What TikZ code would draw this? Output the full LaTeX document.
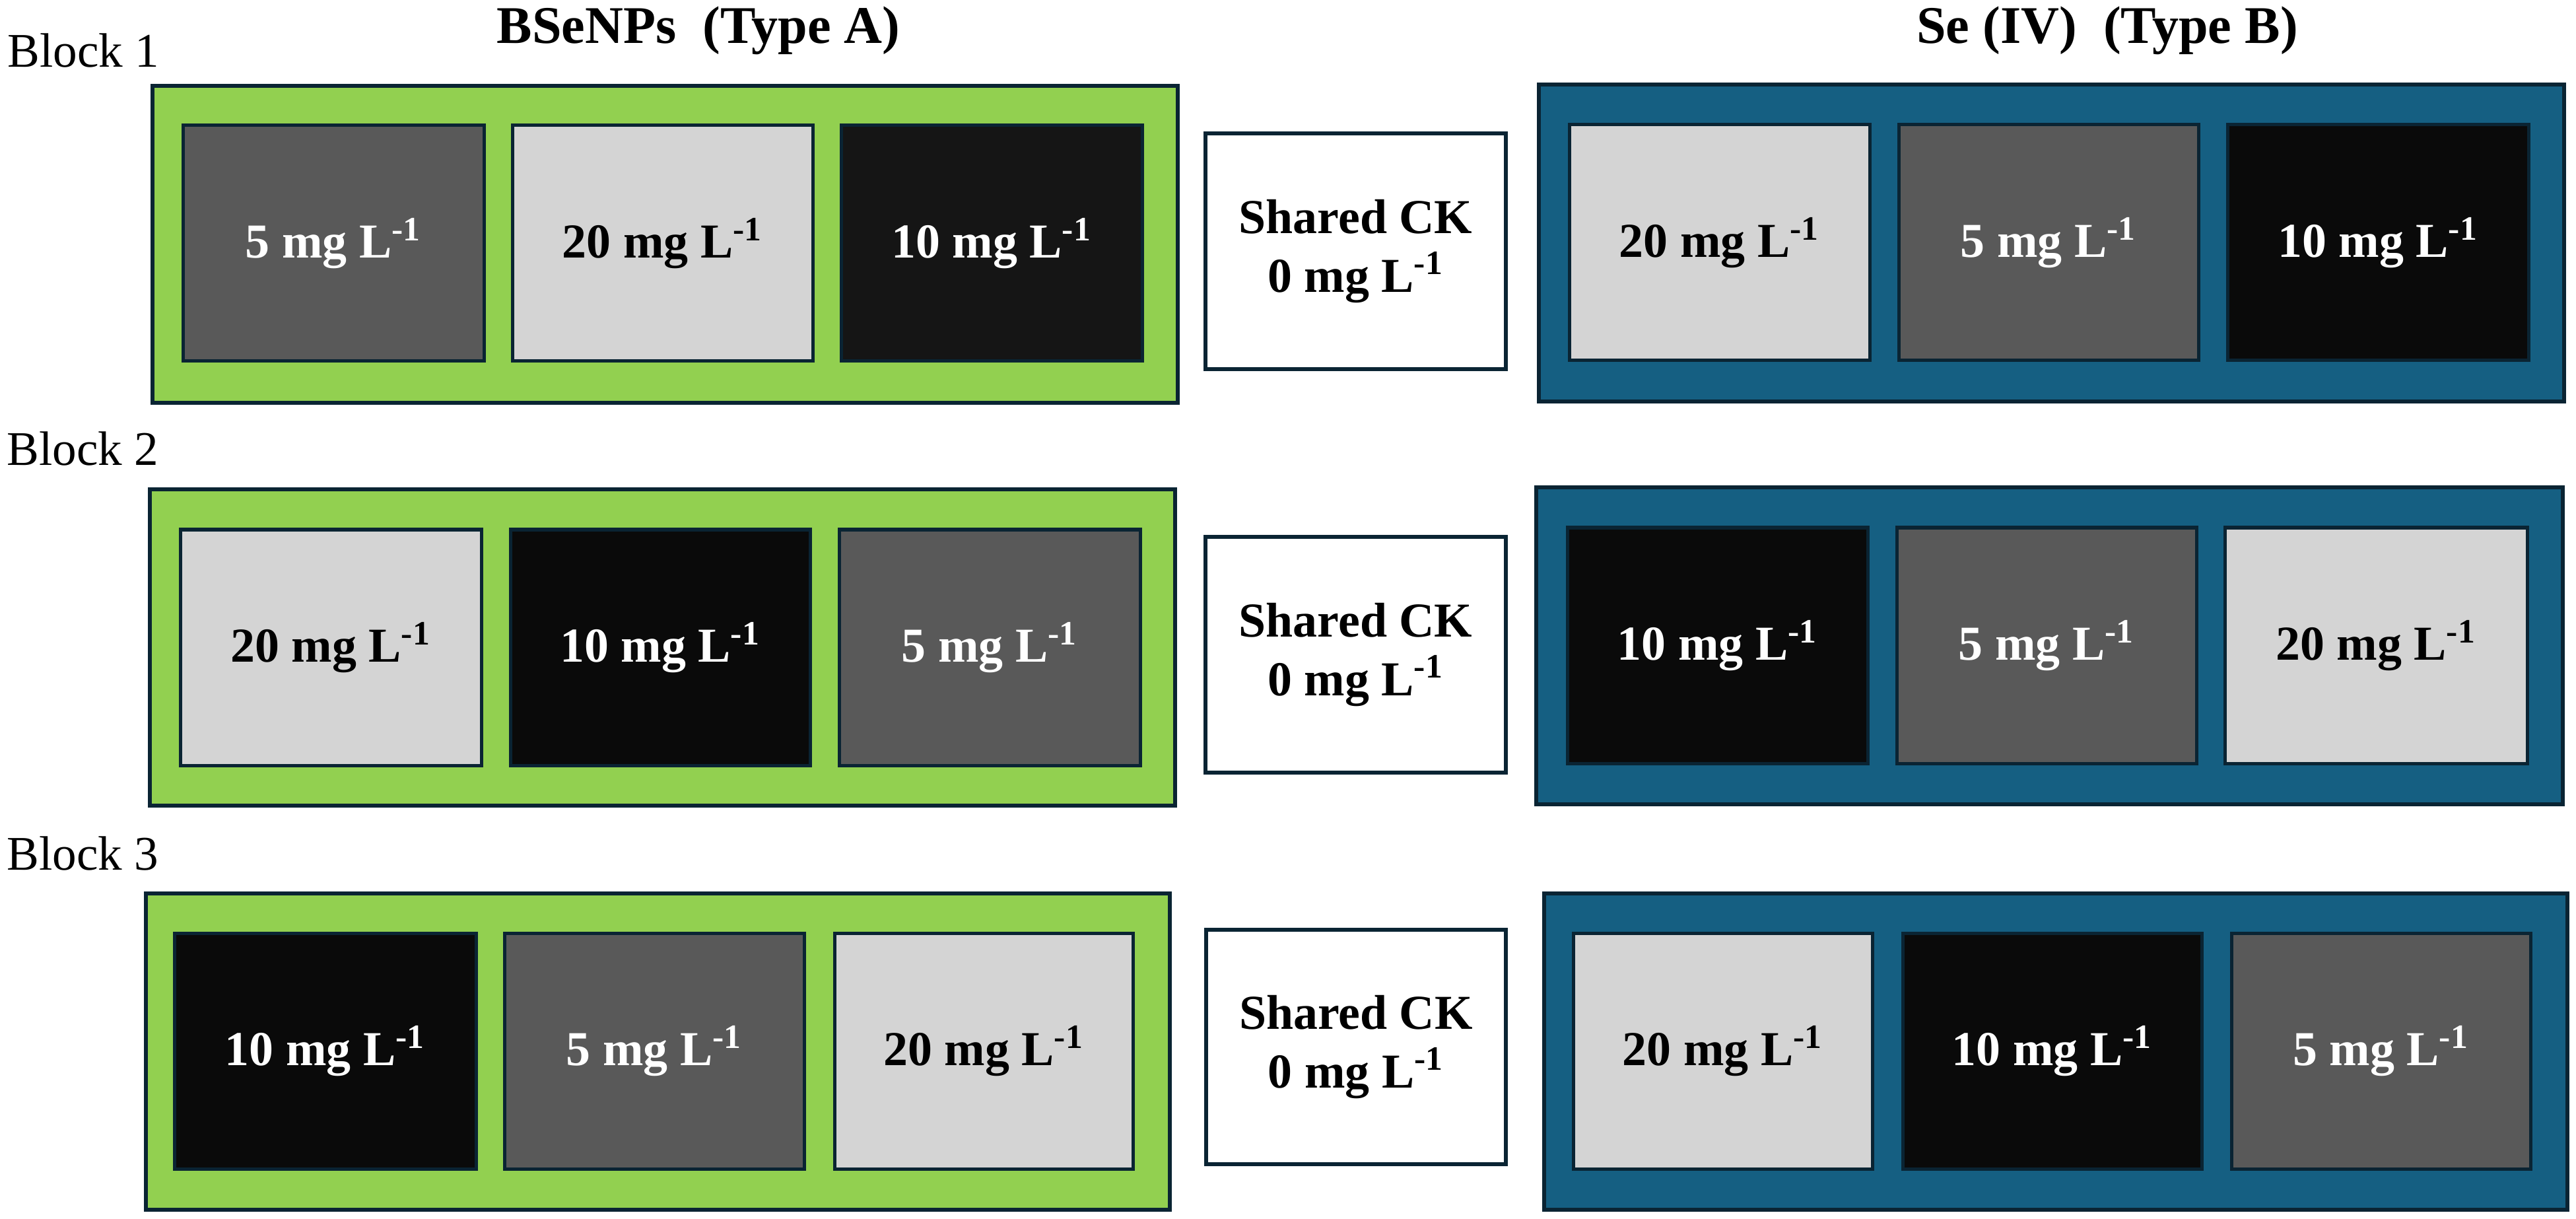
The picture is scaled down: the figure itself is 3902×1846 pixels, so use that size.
\documentclass[tikz,border=0pt]{standalone}
\usepackage{fontspec}
\setmainfont{Liberation Serif}
\definecolor{edge}{HTML}{0A2433}
\definecolor{grn}{HTML}{92D050}
\definecolor{blu}{HTML}{155F82}
\definecolor{dgray}{HTML}{595959}
\definecolor{lgray}{HTML}{D4D4D4}
\definecolor{blk}{HTML}{0A0A0A}
\definecolor{blkb}{HTML}{151515}
\newcommand\bx[7]{\node[#6, minimum width={(#4-#2-6)*0.01cm}, minimum height={(#5-#3-6)*0.01cm}] (#1) at ({(#2+#4)/2},{(#3+#5)/2}) {#7};}
\newcommand\conc[1]{#1 mg L\textsuperscript{-1}}
\tikzset{
  box/.style={rectangle, inner sep=0pt, outer sep=0pt, draw=edge, line width=0.06cm},
  groupA/.style={box, fill=grn},
  groupB/.style={box, fill=blu},
  cell/.style={box, line width=0.05cm, font=\fontsize{21}{25}\selectfont\bfseries},
  c5/.style={cell, fill=dgray, text=white},
  c10/.style={cell, fill=blk, text=white},
  c10b/.style={cell, fill=blkb, text=white},
  c20/.style={cell, fill=lgray, text=black},
  ck/.style={box, fill=white, align=center, font=\fontsize{21}{25.3}\selectfont\bfseries},
  blocklbl/.style={anchor=base west, inner sep=0pt, font=\fontsize{20.8}{24}\selectfont},
  title/.style={anchor=base, inner sep=0pt, font=\fontsize{22.8}{26}\selectfont\bfseries}
}
\begin{document}
\begin{tikzpicture}[x=0.01cm,y=-0.01cm]
\useasboundingbox (0,0) rectangle (3902,1846);
\fill[white] (0,0) rectangle (3902,1846);
% titles
\node[title] (tA) at (1058,66) {BSeNPs\ \ (Type A)};
\node[title] (tB) at (3192,66) {Se (IV)\ \ (Type B)};
\node[blocklbl] (b1) at (11,102) {Block 1};
\node[blocklbl] (b2) at (10,705) {Block 2};
\node[blocklbl] (b3) at (10,1317) {Block 3};
% Row 1
\bx{A1}{228}{127}{1787}{613}{groupA}{}
\bx{A1a}{274}{187}{736}{550}{c5}{\conc{5}}
\bx{A1b}{773}{187}{1234}{550}{c20}{\conc{20}}
\bx{A1c}{1271}{187}{1733}{550}{c10b}{\conc{10}}
\bx{CK1}{1823}{199}{2284}{562}{ck}{Shared CK\\0 mg L\textsuperscript{-1}}
\bx{B1}{2328}{125}{3887}{611}{groupB}{}
\bx{B1a}{2374}{186}{2835}{549}{c20}{\conc{20}}
\bx{B1b}{2873}{186}{3333}{549}{c5}{\conc{5}}
\bx{B1c}{3371}{186}{3833}{549}{c10}{\conc{10}}
% Row 2
\bx{A2}{224}{738}{1783}{1223}{groupA}{}
\bx{A2a}{270}{799}{732}{1162}{c20}{\conc{20}}
\bx{A2b}{770}{799}{1230}{1162}{c10}{\conc{10}}
\bx{A2c}{1268}{799}{1730}{1162}{c5}{\conc{5}}
\bx{CK2}{1823}{810}{2284}{1173}{ck}{Shared CK\\0 mg L\textsuperscript{-1}}
\bx{B2}{2324}{735}{3885}{1221}{groupB}{}
\bx{B2a}{2371}{796}{2832}{1159}{c10}{\conc{10}}
\bx{B2b}{2870}{796}{3330}{1159}{c5}{\conc{5}}
\bx{B2c}{3367}{796}{3831}{1159}{c20}{\conc{20}}
% Row 3
\bx{A3}{218}{1350}{1775}{1835}{groupA}{}
\bx{A3a}{261}{1410}{724}{1773}{c10}{\conc{10}}
\bx{A3b}{761}{1410}{1221}{1773}{c5}{\conc{5}}
\bx{A3c}{1261}{1410}{1719}{1773}{c20}{\conc{20}}
\bx{CK3}{1824}{1405}{2284}{1766}{ck}{Shared CK\\0 mg L\textsuperscript{-1}}
\bx{B3}{2336}{1350}{3892}{1835}{groupB}{}
\bx{B3a}{2380}{1410}{2839}{1773}{c20}{\conc{20}}
\bx{B3b}{2879}{1410}{3338}{1773}{c10}{\conc{10}}
\bx{B3c}{3377}{1410}{3836}{1773}{c5}{\conc{5}}
\end{tikzpicture}
\end{document}
